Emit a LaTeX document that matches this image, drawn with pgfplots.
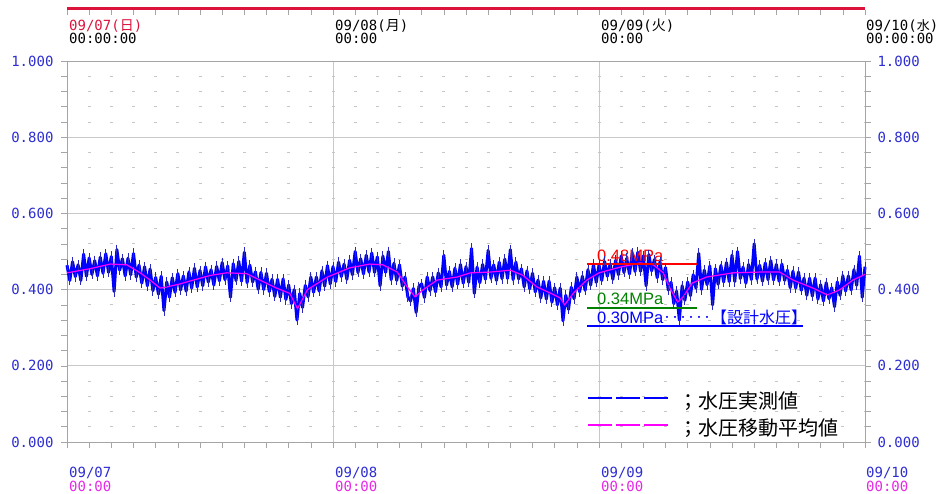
\documentclass[border=0pt]{standalone}
\usepackage{fontspec}
\setmainfont{Liberation Sans}
\newfontfamily\cjk{Noto Sans CJK JP}
\newfontfamily\mono{DejaVu Sans Mono}
\usepackage{pgfplots}
\usepackage{pgfplotstable}
\pgfplotsset{compat=1.18}
\definecolor{tickblue}{RGB}{45,45,210}
\definecolor{datepink}{RGB}{230,40,230}
\definecolor{barred}{RGB}{220,20,60}
\definecolor{measblue}{RGB}{0,0,255}
\definecolor{fringe}{RGB}{40,40,190}
\definecolor{avgmag}{RGB}{255,0,255}
\definecolor{gridgray}{RGB}{200,200,200}
\definecolor{axgray}{RGB}{165,165,165}
\definecolor{lgreen}{RGB}{0,130,0}

% moving average of the water pressure (hours from 09/07 00:00, MPa)
\pgfplotstableread{
h p
0 0.444
2.1 0.455
3.9 0.467
5.4 0.465
6.6 0.444
7.5 0.425
8.4 0.404
9.0 0.407
10.2 0.415
11.4 0.425
12.9 0.437
14.4 0.444
16.2 0.442
17.4 0.425
18.9 0.404
20.1 0.390
20.8 0.350
21.7 0.400
23.5 0.433
25.5 0.457
27.3 0.467
28.5 0.465
29.8 0.446
30.7 0.407
31.4 0.381
32.1 0.399
33.4 0.425
35.2 0.433
36.4 0.444
38.2 0.446
40.0 0.451
41.1 0.438
42.4 0.407
43.6 0.391
44.5 0.378
44.9 0.360
45.7 0.391
46.9 0.425
48.0 0.444
49.9 0.459
51.7 0.470
52.9 0.465
53.8 0.444
54.4 0.404
55.1 0.367
55.6 0.381
56.4 0.417
57.7 0.433
60.1 0.444
62.5 0.446
64.3 0.446
65.5 0.425
67.3 0.404
68.6 0.386
69.7 0.399
70.9 0.425
72.0 0.440
}\avgdata

% measured water pressure
\pgfplotstableread{
h p
0 0.464
0.25 0.424
0.5 0.473
0.75 0.434
1 0.465
1.25 0.424
1.5 0.493
1.75 0.435
2 0.483
2.25 0.440
2.5 0.476
2.75 0.436
3 0.485
3.25 0.443
3.5 0.494
3.75 0.445
4 0.487
4.25 0.395
4.5 0.505
4.75 0.451
5 0.481
5.25 0.436
5.5 0.482
5.75 0.439
6 0.495
6.25 0.433
6.5 0.464
6.75 0.417
7 0.460
7.25 0.410
7.5 0.454
7.75 0.397
8 0.432
8.25 0.388
8.5 0.435
8.75 0.345
9 0.420
9.25 0.380
9.5 0.431
9.75 0.393
10 0.442
10.25 0.399
10.5 0.436
10.75 0.396
11 0.446
11.25 0.404
11.5 0.456
11.75 0.407
12 0.450
12.25 0.410
12.5 0.460
12.75 0.420
13 0.452
13.25 0.412
13.5 0.461
13.75 0.423
14 0.471
14.25 0.426
14.5 0.462
14.75 0.380
15 0.468
15.25 0.424
15.5 0.474
15.75 0.422
16 0.498
16.25 0.418
16.5 0.464
16.75 0.420
17 0.447
17.25 0.401
17.5 0.445
17.75 0.400
18 0.443
18.25 0.395
18.5 0.427
18.75 0.382
19 0.427
19.25 0.380
19.5 0.428
19.75 0.374
20 0.412
20.25 0.363
20.5 0.400
20.75 0.320
21 0.390
21.25 0.353
21.5 0.411
21.75 0.381
22 0.433
22.25 0.393
22.5 0.433
22.75 0.396
23 0.449
23.25 0.409
23.5 0.463
23.75 0.415
24 0.460
24.25 0.421
24.5 0.472
24.75 0.434
25 0.467
25.25 0.427
25.5 0.477
25.75 0.439
26 0.500
26.25 0.445
26.5 0.481
26.75 0.441
27 0.490
27.25 0.446
27.5 0.496
27.75 0.445
28 0.486
28.25 0.410
28.5 0.488
28.75 0.445
29 0.500
29.25 0.426
29.5 0.469
29.75 0.424
30 0.465
30.25 0.409
30.5 0.433
30.75 0.381
31 0.370
31.25 0.403
31.5 0.340
31.75 0.408
32 0.415
32.25 0.379
32.5 0.433
32.75 0.397
33 0.433
33.25 0.394
33.5 0.444
33.75 0.407
34 0.490
34.25 0.412
34.5 0.448
34.75 0.407
35 0.456
35.25 0.414
35.5 0.466
35.75 0.417
36 0.460
36.25 0.419
36.5 0.508
36.75 0.390
37 0.459
37.25 0.418
37.5 0.466
37.75 0.427
38 0.503
38.25 0.430
38.5 0.465
38.75 0.424
39 0.472
39.25 0.429
39.5 0.480
39.75 0.429
40 0.505
40.25 0.426
40.5 0.472
40.75 0.428
41 0.455
41.25 0.407
41.5 0.449
41.75 0.402
42 0.443
42.25 0.394
42.5 0.425
42.75 0.378
43 0.422
43.25 0.375
43.5 0.422
43.75 0.367
44 0.405
44.25 0.360
44.5 0.404
44.75 0.318
45 0.385
45.25 0.348
45.5 0.406
45.75 0.376
46 0.433
46.25 0.394
46.5 0.435
46.75 0.398
47 0.452
47.25 0.412
47.5 0.466
47.75 0.419
48 0.464
48.25 0.424
48.5 0.474
48.75 0.435
49 0.467
49.25 0.427
49.5 0.477
49.75 0.439
50 0.488
50.25 0.445
50.5 0.482
50.75 0.441
51 0.495
51.25 0.448
51.5 0.498
51.75 0.448
52 0.489
52.25 0.410
52.5 0.492
52.75 0.449
53 0.479
53.25 0.431
53.5 0.473
53.75 0.426
54 0.458
54.25 0.399
54.5 0.419
54.75 0.363
55 0.396
55.25 0.320
55.5 0.410
55.75 0.372
56 0.420
56.25 0.384
56.5 0.439
56.75 0.404
57 0.495
57.25 0.400
57.5 0.451
57.75 0.413
58 0.462
58.25 0.360
58.5 0.455
58.75 0.414
59 0.463
59.25 0.420
59.5 0.471
59.75 0.421
60 0.490
60.25 0.421
60.5 0.500
60.75 0.429
61 0.459
61.25 0.417
61.5 0.466
61.75 0.426
62 0.520
62.25 0.428
62.5 0.464
62.75 0.422
63 0.470
63.25 0.426
63.5 0.476
63.75 0.425
64 0.466
64.25 0.422
64.5 0.467
64.75 0.424
65 0.451
65.25 0.405
65.5 0.448
65.75 0.404
66 0.446
66.25 0.398
66.5 0.430
66.75 0.385
67 0.430
67.25 0.383
67.5 0.430
67.75 0.375
68 0.413
68.25 0.370
68.5 0.418
68.75 0.376
69 0.405
69.25 0.355
69.5 0.420
69.75 0.385
70 0.436
70.25 0.396
70.5 0.436
70.75 0.399
71 0.452
71.25 0.411
71.5 0.488
71.75 0.380
72 0.460
}\measdata

\begin{document}
\begin{tikzpicture}[x=1pt,y=1pt]
\path[use as bounding box] (-67,-51) rectangle (872,442);
\begin{axis}[
    at={(0,0)}, anchor=south west,
    scale only axis, width=798pt, height=381pt,
    xmin=0, xmax=72, ymin=0, ymax=1,
    axis line style={axgray, line width=0.8pt},
    xtick={0,24,48,72}, minor x tick num=11,
    ytick={0,0.2,0.4,0.6,0.8,1}, minor y tick num=4,
    xticklabels={},
    yticklabels={0.000,0.200,0.400,0.600,0.800,1.000},
    yticklabel style={font=\mono\fontsize{14}{16}\selectfont, text=tickblue, xshift=-4pt},
    tick align=outside, xtick pos=left, ytick pos=both,
    major tick length=6pt, minor tick length=6pt,
    tick style={axgray, line width=0.6pt},
    grid=both,
    major grid style={gridgray, line width=0.8pt},
    minor x grid style={draw=none},
    minor y grid style={gray!45, line width=0.8pt, dash pattern=on 3pt off 19.1667pt, dash phase=1.5pt},
    clip=false,
]
% measured values: dark hairs, then the same trace drawn wide
\addplot[fringe, line width=0.8pt, mark=|, mark size=5pt, mark options={fringe, line width=0.8pt}] table[x=h, y=p] {\measdata};
\addplot[measblue, line width=3pt, line join=round] table[x=h, y=p] {\measdata};
% moving average
\addplot[avgmag, line width=1.2pt] table[x=h, y=p] {\avgdata};
% reference levels
\addplot[red, line width=1.5pt] coordinates {(46.92,0.467) (56.84,0.467)};
\addplot[lgreen, line width=1.5pt] coordinates {(46.92,0.352) (56.84,0.352)};
\addplot[measblue, line width=1.5pt] coordinates {(46.92,0.304) (66.41,0.304)};
\node[anchor=base west, text=red, font=\fontsize{16.5}{18}\selectfont, inner sep=0pt] at (axis cs:47.82,0.475) {0.48MPa};
\node[anchor=base west, text=lgreen, font=\fontsize{16.5}{18}\selectfont, inner sep=0pt] at (axis cs:47.82,0.360) {0.34MPa};
\node[anchor=base west, text=measblue, font=\fontsize{16.5}{18}\selectfont, inner sep=0pt] at (axis cs:47.82,0.312) {0.30MPa{\cjk\fontsize{16}{18}\selectfont ‥‥‥【設計水圧】}};
% top date bar
\draw[barred, line width=3pt] (axis cs:0,1.138) -- (axis cs:72,1.138);
\pgfplotsinvokeforeach{0,2,...,72}{\draw[axgray, line width=0.6pt] (axis cs:#1,1.134) -- (axis cs:#1,1.121);}
\node[anchor=base west, inner sep=0pt, text=barred, font=\mono\fontsize{14}{16}\selectfont] at (axis cs:0.18,1.081) {09/07({\cjk 日})};
\node[anchor=base west, inner sep=0pt, font=\mono\fontsize{14}{16}\selectfont] at (axis cs:0.18,1.047) {00:00:00};
\node[anchor=base west, inner sep=0pt, font=\mono\fontsize{14}{16}\selectfont] at (axis cs:24.18,1.081) {09/08({\cjk 月})};
\node[anchor=base west, inner sep=0pt, font=\mono\fontsize{14}{16}\selectfont] at (axis cs:24.18,1.047) {00:00};
\node[anchor=base west, inner sep=0pt, font=\mono\fontsize{14}{16}\selectfont] at (axis cs:48.18,1.081) {09/09({\cjk 火})};
\node[anchor=base west, inner sep=0pt, font=\mono\fontsize{14}{16}\selectfont] at (axis cs:48.18,1.047) {00:00};
\node[anchor=base west, inner sep=0pt, font=\mono\fontsize{14}{16}\selectfont] at (axis cs:72.09,1.081) {09/10({\cjk\fontsize{13}{16}\selectfont 水})};
\node[anchor=base west, inner sep=0pt, font=\mono\fontsize{14}{16}\selectfont] at (axis cs:72.09,1.047) {00:00:00};
% bottom date labels
\node[anchor=base west, inner sep=0pt, text=tickblue, font=\mono\fontsize{14}{16}\selectfont] at (axis cs:0.18,-0.092) {09/07};
\node[anchor=base west, inner sep=0pt, text=datepink, font=\mono\fontsize{14}{16}\selectfont] at (axis cs:0.18,-0.129) {00:00};
\node[anchor=base west, inner sep=0pt, text=tickblue, font=\mono\fontsize{14}{16}\selectfont] at (axis cs:24.18,-0.092) {09/08};
\node[anchor=base west, inner sep=0pt, text=datepink, font=\mono\fontsize{14}{16}\selectfont] at (axis cs:24.18,-0.129) {00:00};
\node[anchor=base west, inner sep=0pt, text=tickblue, font=\mono\fontsize{14}{16}\selectfont] at (axis cs:48.18,-0.092) {09/09};
\node[anchor=base west, inner sep=0pt, text=datepink, font=\mono\fontsize{14}{16}\selectfont] at (axis cs:48.18,-0.129) {00:00};
\node[anchor=base west, inner sep=0pt, text=tickblue, font=\mono\fontsize{14}{16}\selectfont] at (axis cs:72.09,-0.092) {09/10};
\node[anchor=base west, inner sep=0pt, text=datepink, font=\mono\fontsize{14}{16}\selectfont] at (axis cs:72.09,-0.129) {00:00};
% legend
\draw[measblue, line width=1.3pt, dash pattern=on 24pt off 4pt] (axis cs:47.01,0.1155) -- (axis cs:54.23,0.1155);
\draw[avgmag, line width=1.3pt, dash pattern=on 24pt off 4pt] (axis cs:47.01,0.0446) -- (axis cs:54.23,0.0446);
\node[anchor=base west, inner sep=0pt, font=\cjk\fontsize{20}{22}\selectfont] at (axis cs:55.13,0.089) {；水圧実測値};
\node[anchor=base west, inner sep=0pt, font=\cjk\fontsize{20}{22}\selectfont] at (axis cs:55.13,0.018) {；水圧移動平均値};
\end{axis}
% right-hand tick labels
\begin{axis}[
    at={(0,0)}, anchor=south west,
    scale only axis, width=798pt, height=381pt,
    xmin=0, xmax=72, ymin=0, ymax=1,
    hide x axis, axis y line*=right,
    y axis line style={draw=none},
    ytick={0,0.2,0.4,0.6,0.8,1},
    yticklabels={0.000,0.200,0.400,0.600,0.800,1.000},
    major tick length=0pt,
    yticklabel style={font=\mono\fontsize{14}{16}\selectfont, text=tickblue, xshift=9pt},
]
\end{axis}
\end{tikzpicture}
\end{document}
